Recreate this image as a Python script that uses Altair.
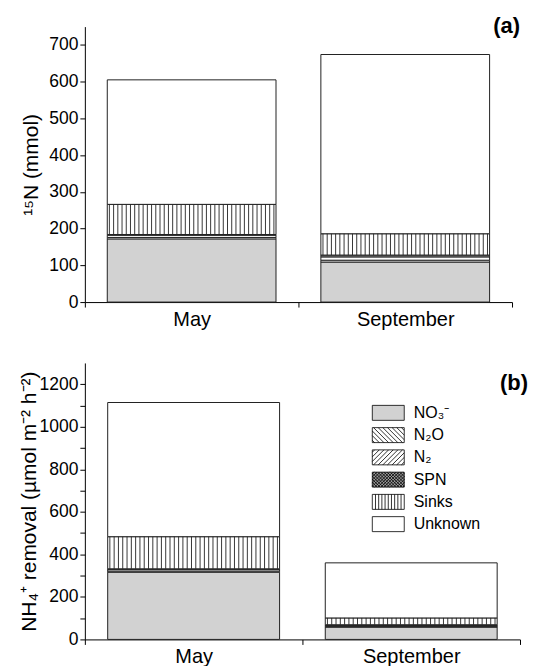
import altair as alt
import pandas as pd

# ---------------- data ----------------
months = ["May", "September"]
components = ["NO₃⁻", "N₂O", "N₂", "SPN", "Sinks", "Unknown"]
panel_a_may = [172, 4, 6, 2, 82, 339]
panel_a_sep = [109, 5, 9, 5, 58, 488]
panel_b_may = [316, 5, 7, 4, 151, 631]
panel_b_sep = [58, 3, 4, 4, 32, 259]
panel_labels = ["(a)", "(b)"]
y_titles = ["¹⁵N (mmol)", "NH₄⁺ removal (µmol m⁻² h⁻²)"]

# ---------------- style ----------------
fills = ["#d2d2d2", "#ffffff", "#ffffff", "#9a9a9a", "#ffffff", "#ffffff"]
FONT = "Liberation Sans"
N_STRIPES = 40
BAR_FRAC = 0.79
EXTRA = 5
PO = (N_STRIPES / BAR_FRAC - N_STRIPES - 2 * EXTRA) / 2
OFFSET_DOMAIN = list(range(-EXTRA, N_STRIPES + EXTRA))


def stacked(may, sep):
    rows = []
    for m, vals in zip(months, [may, sep]):
        base = 0
        for i, (c, v) in enumerate(zip(components, vals)):
            rows.append({"Month": m, "comp": c, "order": i,
                         "y0": base, "y1": base + v, "value": v})
            base += v
    return pd.DataFrame(rows)


def stripes(df):
    s = df[df.comp == "Sinks"]
    rows = []
    for _, r in s.iterrows():
        for k in range(N_STRIPES):
            rows.append({"Month": r.Month, "k": k, "y0": r.y0, "y1": r.y1})
    return pd.DataFrame(rows)


# legend swatch shapes (custom SVG paths, hatch patterns)
W, H = 32 / 15, 1.0


def f(v):
    return f"{v:.3f}"


rect = f"M{f(-W)},{f(-H)}H{f(W)}V{f(H)}H{f(-W)}Z"


def vlines(n):
    return " ".join(f"M{f(-W + k * 2 * W / (n + 1))},{f(-H)}V{f(H)}" for k in range(1, n + 1))


def diag(step, back):
    segs = []
    c = -W - H + step / 2
    while c < W + H:
        if back:  # "\" : x - y = c
            y1, y2 = max(-H, -W - c), min(H, W - c)
            if y1 < y2:
                segs.append(f"M{f(y1 + c)},{f(y1)}L{f(y2 + c)},{f(y2)}")
        else:  # "/" : x + y = c
            y1, y2 = max(-H, c - W), min(H, c + W)
            if y1 < y2:
                segs.append(f"M{f(c - y1)},{f(y1)}L{f(c - y2)},{f(y2)}")
        c += step
    return " ".join(segs)


shapes = {
    "N₂O": rect + " " + diag(0.62, True),
    "N₂": rect + " " + diag(0.62, False),
    "SPN": rect + " " + diag(0.42, True) + " " + diag(0.42, False),
    "Sinks": rect + " " + vlines(9),
}
expr = ""
for k, v in shapes.items():
    expr += f"datum.value === '{k}' ? '{v}' : "
expr += f"'{rect}'"

label_y = {panel_labels[0]: 6, panel_labels[1]: 27}


def panel(may, sep, ymax, yvals, ytitle, width, height, label, title_pad, show_legend, label_expr):
    df = stacked(may, sep)
    sdf = stripes(df)
    xscale = alt.Scale(domain=months, paddingInner=0, paddingOuter=0)
    yscale = alt.Scale(domain=[0, ymax], nice=False)
    xaxis = alt.Axis(title=None, labelAngle=0, tickBand="extent", labelFontSize=20,
                     labelPadding=2, tickSize=5)
    yaxis_kw = dict(title=ytitle, values=yvals, labelFontSize=17.5, tickSize=5, format="d",
                    labelPadding=2, titlePadding=title_pad, titleFontSize=21,
                    labelOverlap=False)
    if label_expr:
        yaxis_kw["labelExpr"] = label_expr
    yaxis = alt.Axis(**yaxis_kw)
    if show_legend:
        legend = alt.Legend(title=None, orient="none", legendX=296, legendY=42,
                            symbolType=alt.ExprRef(expr=expr), symbolSize=225,
                            symbolStrokeColor="black", symbolStrokeWidth=0.8,
                            labelFont=FONT, labelFontSize=16, labelColor="black",
                            labelOffset=17.5, rowPadding=2.3, padding=0)
    else:
        legend = None
    bars = alt.Chart(df).mark_bar(width=alt.RelativeBandSize(BAR_FRAC), stroke="#222",
                                  strokeWidth=1).encode(
        x=alt.X("Month:N", scale=xscale, axis=xaxis, sort=months),
        y=alt.Y("y0:Q", scale=yscale, axis=yaxis),
        y2="y1:Q",
        fill=alt.Fill("comp:N", scale=alt.Scale(domain=components, range=fills), legend=legend),
    )
    rules = alt.Chart(sdf).mark_rule(color="#222", strokeWidth=0.9).encode(
        x=alt.X("Month:N", scale=xscale, axis=xaxis, sort=months),
        xOffset=alt.XOffset("k:O", scale=alt.Scale(domain=OFFSET_DOMAIN, paddingOuter=PO,
                                                   paddingInner=0)),
        y=alt.Y("y0:Q", scale=yscale, axis=yaxis),
        y2="y1:Q",
    )
    txt = alt.Chart(pd.DataFrame({"lab": [label]})).mark_text(
        font=FONT, fontSize=22, fontWeight="bold", align="right", baseline="alphabetic",
        color="black").encode(text="lab:N", x=alt.value(width + 8), y=alt.value(label_y[label]))
    return alt.layer(bars, rules, txt).properties(width=width, height=height)


top = panel(panel_a_may, panel_a_sep, 750, list(range(0, 701, 100)), y_titles[0],
            428, 276, panel_labels[0], 7, False, None)
bottom = panel(panel_b_may, panel_b_sep, 1300, list(range(0, 1201, 100)), y_titles[1],
               436, 277, panel_labels[1], 0, True,
               "datum.value % 200 === 0 ? datum.label : ''")

chart = alt.vconcat(top, bottom, spacing=34).resolve_scale(
    fill="independent", x="independent", y="independent", xOffset="independent"
).properties(
    padding={"left": 10, "top": 6, "right": 0, "bottom": 0}
).configure_view(stroke=None).configure_axis(
    domainColor="black", tickColor="black", labelColor="black", titleColor="black",
    labelFont=FONT, titleFont=FONT, grid=False, titleFontWeight="normal", domainWidth=1
)

chart.save("out.html", embed_options={"renderer": "svg", "actions": False})
